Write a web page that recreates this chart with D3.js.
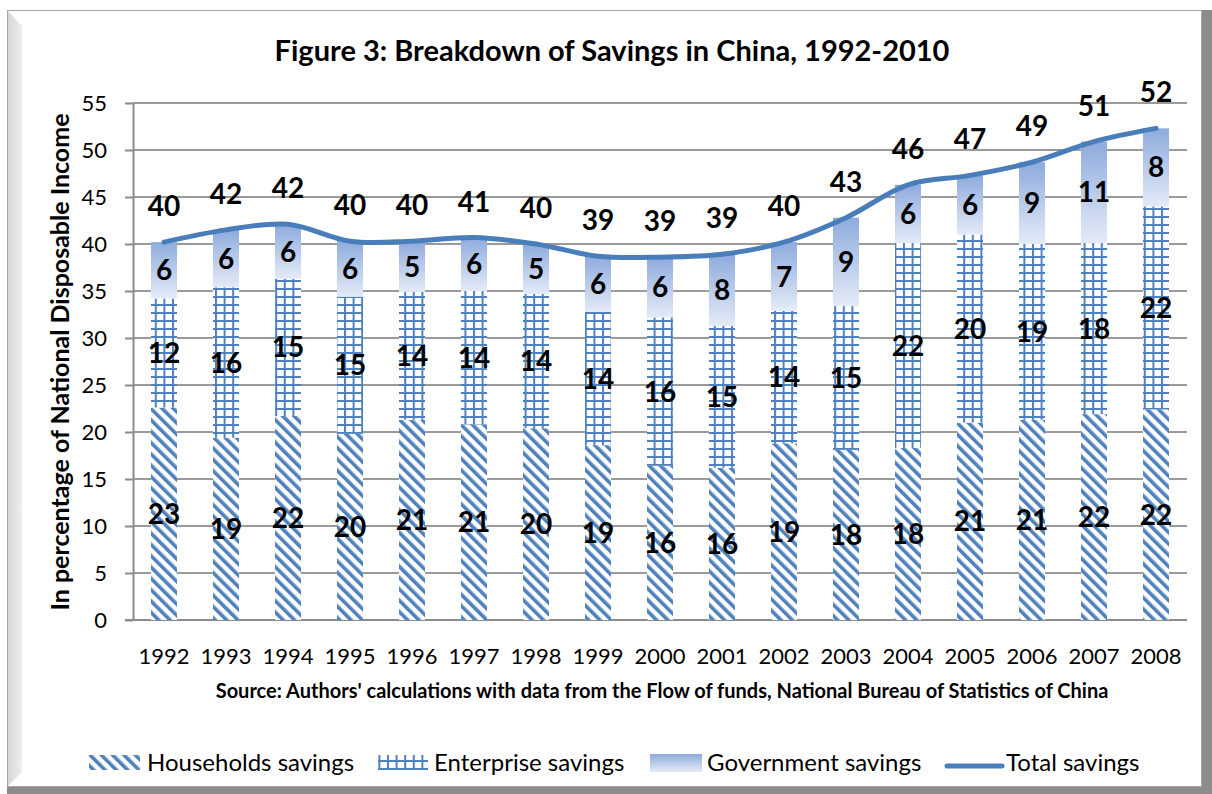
<!DOCTYPE html>
<html>
<head>
<meta charset="utf-8">
<script src="https://cdn.jsdelivr.net/npm/d3@7"></script>
<style>
	html, body { margin: 0; padding: 0; background: #fff; }
	svg { display: block; font-family: Lato, "Open Sans", sans-serif; }
</style>
</head>
<body>
<svg id="chart" width="1212" height="794"></svg>
<script>
const years = ["1992", "1993", "1994", "1995", "1996", "1997", "1998", "1999", "2000",
	"2001", "2002", "2003", "2004", "2005", "2006", "2007", "2008"];
const households = [22.6, 19.4, 21.7, 19.8, 21.3, 20.8, 20.4, 18.6, 16.4, 16.2, 18.8, 18.1, 18.3, 21.0, 21.3, 21.9, 22.4];
const enterprise = [11.6, 16.0, 14.6, 14.6, 13.6, 14.2, 14.3, 14.2, 15.8, 15.1, 14.1, 15.3, 21.8, 20.0, 18.7, 18.2, 21.6];
const government = [6.0, 6.1, 5.8, 5.9, 5.4, 5.7, 5.3, 5.9, 6.4, 7.6, 7.3, 9.4, 6.2, 6.3, 8.7, 10.8, 8.3];
const yTicks = [0, 5, 10, 15, 20, 25, 30, 35, 40, 45, 50, 55];
const seriesNames = ["Households savings", "Enterprise savings", "Government savings", "Total savings"];

const rows = years.map((year, i) => ({
	year,
	households: households[i],
	enterprise: enterprise[i],
	government: government[i],
	total: households[i] + enterprise[i] + government[i],
}));

const blue = "#4f81bd";
const svg = d3.select("#chart");
const width = +svg.attr("width"),
	height = +svg.attr("height");

// frame: light border, bevel on the left, dark shadow right and bottom
svg.append("rect").attr("width", width).attr("height", height).attr("fill", "#fff");
const defs = svg.append("defs");

const bevel = defs.append("linearGradient").attr("id", "bevel").attr("x1", 0).attr("x2", 1);
bevel.append("stop").attr("offset", 0).attr("stop-color", "#d6d6d6");
bevel.append("stop").attr("offset", 1).attr("stop-color", "#efefef");

svg.append("rect").attr("x", 1202).attr("y", 10).attr("width", 10).attr("height", 784).attr("fill", "#8c8c8c");
svg.append("rect").attr("x", 7).attr("y", 787).attr("width", 1205).attr("height", 7).attr("fill", "#8c8c8c");
svg.append("rect")
	.attr("x", 7.5).attr("y", 10.5).attr("width", 1194).attr("height", 776)
	.attr("fill", "#fff").attr("stroke", "#a6a6a6");
svg.append("polygon")
	.attr("points", "8,11 22,26 22,772 8,786")
	.attr("fill", "url(#bevel)");

// fills
defs.append("pattern")
	.attr("id", "diag")
	.attr("patternUnits", "userSpaceOnUse")
	.attr("width", 8).attr("height", 8)
	.attr("patternTransform", "rotate(-45)")
	.call((p) => {
		p.append("rect").attr("width", 8).attr("height", 8).attr("fill", "#fff");
		p.append("rect").attr("width", 3.6).attr("height", 8).attr("fill", blue);
	});

defs.append("pattern")
	.attr("id", "grid")
	.attr("patternUnits", "userSpaceOnUse")
	.attr("width", 8.6).attr("height", 8)
	.call((p) => {
		p.append("rect").attr("width", 8.6).attr("height", 8).attr("fill", "#fff");
		p.append("rect").attr("width", 2).attr("height", 8).attr("fill", blue);
		p.append("rect").attr("width", 8.6).attr("height", 2).attr("fill", blue);
	});

const gov = defs.append("linearGradient")
	.attr("id", "gov")
	.attr("x1", 0).attr("y1", 0).attr("x2", 0).attr("y2", 1);
gov.append("stop").attr("offset", 0).attr("stop-color", "#8eabdd");
gov.append("stop").attr("offset", 1).attr("stop-color", "#e4ebf7");

// scales
const x = d3.scaleBand().domain(years).range([133, 1187]).paddingInner(0.58).paddingOuter(0.29);
const y = d3.scaleLinear().domain([0, 55]).range([620, 103]);

// title
svg.append("text")
	.attr("x", 612).attr("y", 61)
	.attr("text-anchor", "middle")
	.style("font-weight", "bold").style("font-size", "29px")
	.text("Figure 3: Breakdown of Savings in China, 1992-2010");

// grid and y axis
svg.append("g")
	.selectAll("line")
	.data(yTicks.filter((d) => d > 0))
	.join("line")
	.attr("x1", 133).attr("x2", 1187)
	.attr("y1", (d) => y(d)).attr("y2", (d) => y(d))
	.attr("stroke", "#9a9a9a").attr("stroke-width", 2);

const yAxis = svg.append("g")
	.attr("transform", "translate(133,0)")
	.call(d3.axisLeft(y).tickValues(yTicks).tickSize(8).tickSizeOuter(0));
yAxis.select(".domain").attr("stroke", "#8c8c8c").attr("stroke-width", 2);
yAxis.selectAll(".tick line").attr("stroke", "#8c8c8c").attr("stroke-width", 2);
yAxis.selectAll(".tick text")
	.attr("x", -26)
	.attr("fill", "#000")
	.style("font-size", "22px")
	.style("font-family", "Lato, sans-serif");

svg.append("line")
	.attr("x1", 125).attr("x2", 1187)
	.attr("y1", y(0)).attr("y2", y(0))
	.attr("stroke", "#8c8c8c").attr("stroke-width", 2);

svg.append("text")
	.attr("transform", "translate(69,362) rotate(-90)")
	.attr("text-anchor", "middle")
	.style("font-weight", "bold").style("font-size", "25px")
	.text("In percentage of National Disposable Income");

// x labels
svg.append("g")
	.selectAll("text")
	.data(years)
	.join("text")
	.attr("x", (d) => x(d) + x.bandwidth() / 2)
	.attr("y", 664)
	.attr("text-anchor", "middle")
	.style("font-size", "22px")
	.text((d) => d);

svg.append("text")
	.attr("x", 662).attr("y", 698)
	.attr("text-anchor", "middle")
	.style("font-weight", "bold").style("font-size", "20px")
	.text("Source: Authors' calculations with data from the Flow of funds, National Bureau of Statistics of China");

// stacked bars
const keys = ["households", "enterprise", "government"];
const fills = { households: "url(#diag)", enterprise: "url(#grid)", government: "url(#gov)" };
const stack = d3.stack().keys(keys)(rows);

const layer = svg.append("g")
	.selectAll("g")
	.data(stack)
	.join("g")
	.attr("fill", (s) => fills[s.key]);

layer.selectAll("rect")
	.data((s) => s)
	.join("rect")
	.attr("x", (d) => x(d.data.year))
	.attr("width", x.bandwidth())
	.attr("y", (d) => y(d[1]))
	.attr("height", (d) => y(d[0]) - y(d[1]));

// total line
const line = d3.line()
	.x((d) => x(d.year) + x.bandwidth() / 2)
	.y((d) => y(d.total))
	.curve(d3.curveCatmullRom.alpha(0.5));

svg.append("path")
	.datum(rows)
	.attr("d", line)
	.attr("fill", "none")
	.attr("stroke", "#4a7ebb")
	.attr("stroke-width", 5)
	.attr("stroke-linecap", "round");

// data labels
const labels = svg.append("g")
	.style("font-weight", "bold")
	.style("font-size", "28px")
	.attr("text-anchor", "middle");

stack.forEach((s) => {
	labels.append("g")
		.selectAll("text")
		.data(s)
		.join("text")
		.attr("x", (d) => x(d.data.year) + x.bandwidth() / 2)
		.attr("y", (d) => y((d[0] + d[1]) / 2))
		.attr("dy", "0.36em")
		.text((d) => Math.round(d[1] - d[0]));
});

labels.append("g")
	.selectAll("text")
	.data(rows)
	.join("text")
	.attr("x", (d) => x(d.year) + x.bandwidth() / 2)
	.attr("y", (d) => y(d.total) - 36)
	.attr("dy", "0.36em")
	.text((d) => Math.round(d.total));

// legend
const legend = svg.append("g").style("font-size", "24px");
const legendX = [89, 378, 650, 947];
const textX = [147, 434, 707, 1006];

legend.append("rect").attr("x", legendX[0]).attr("y", 755).attr("width", 51).attr("height", 15).attr("fill", "url(#diag)");
legend.append("rect").attr("x", legendX[1]).attr("y", 755).attr("width", 50).attr("height", 15).attr("fill", "url(#grid)");
legend.append("rect").attr("x", legendX[2]).attr("y", 754).attr("width", 52).attr("height", 18).attr("fill", "url(#gov)");
legend.append("line")
	.attr("x1", legendX[3]).attr("x2", legendX[3] + 55)
	.attr("y1", 766).attr("y2", 766)
	.attr("stroke", "#4a7ebb").attr("stroke-width", 5).attr("stroke-linecap", "round");

legend.selectAll("text.item")
	.data(seriesNames)
	.join("text")
	.attr("class", "item")
	.attr("x", (d, i) => textX[i])
	.attr("y", 771)
	.text((d) => d);
</script>
</body>
</html>
